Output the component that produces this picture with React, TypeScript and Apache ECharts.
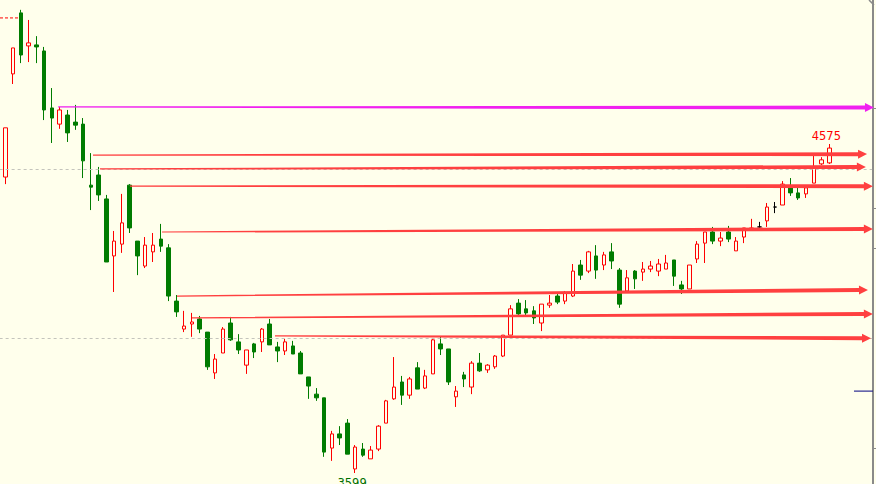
import React, { useEffect, useRef } from 'react';
import * as echarts from 'echarts';

// [open, close, low, high]
const candles: number[][] = [
  [4403, 4441, 4403, 4441],
  [4477, 4623, 4456, 4623],
  [4783, 4860, 4753, 4860],
  [4964, 4839, 4815, 4973],
  [4866, 4875, 4818, 4943],
  [4869, 4863, 4815, 4895],
  [4851, 4676, 4646, 4863],
  [4682, 4652, 4578, 4741],
  [4634, 4676, 4620, 4685],
  [4661, 4608, 4581, 4676],
  [4640, 4631, 4617, 4691],
  [4634, 4525, 4474, 4652],
  [4453, 4447, 4379, 4548],
  [4483, 4424, 4406, 4507],
  [4412, 4225, 4225, 4424],
  [4243, 4287, 4136, 4317],
  [4278, 4341, 4252, 4427],
  [4453, 4326, 4311, 4456],
  [4287, 4243, 4186, 4287],
  [4213, 4275, 4207, 4299],
  [4255, 4275, 4225, 4311],
  [4293, 4272, 4255, 4338],
  [4267, 4124, 4109, 4278],
  [4109, 4077, 4062, 4127],
  [4026, 4035, 4017, 4080],
  [4041, 4047, 4003, 4074],
  [4056, 4026, 4014, 4065],
  [4017, 3914, 3905, 4017],
  [3896, 3937, 3878, 3952],
  [3955, 4026, 3955, 4032],
  [4044, 3994, 3991, 4062],
  [3988, 3964, 3952, 4011],
  [3919, 3964, 3893, 3964],
  [3982, 3958, 3940, 3985],
  [3988, 4026, 3958, 4029],
  [4041, 3979, 3979, 4056],
  [3973, 3961, 3928, 3988],
  [3961, 3988, 3949, 3997],
  [3976, 3952, 3952, 3991],
  [3955, 3893, 3893, 3961],
  [3884, 3857, 3819, 3884],
  [3833, 3822, 3813, 3851],
  [3822, 3661, 3647, 3822],
  [3673, 3715, 3635, 3724],
  [3715, 3703, 3682, 3738],
  [3747, 3655, 3655, 3759],
  [3611, 3676, 3599, 3682],
  [3670, 3652, 3647, 3688],
  [3641, 3667, 3641, 3679],
  [3670, 3738, 3664, 3741],
  [3747, 3813, 3747, 3816],
  [3819, 3854, 3816, 3943],
  [3869, 3830, 3801, 3887],
  [3830, 3878, 3819, 3884],
  [3911, 3848, 3848, 3928],
  [3851, 3887, 3848, 3905],
  [3893, 3994, 3893, 3997],
  [3982, 3967, 3949, 4003],
  [3967, 3869, 3860, 3967],
  [3825, 3842, 3795, 3857],
  [3890, 3878, 3854, 3899],
  [3854, 3925, 3833, 3931],
  [3925, 3902, 3899, 3955],
  [3905, 3919, 3896, 3922],
  [3914, 3946, 3908, 3949],
  [3946, 4008, 3943, 4008],
  [4008, 4086, 4008, 4097],
  [4103, 4071, 4068, 4115],
  [4086, 4074, 4065, 4112],
  [4080, 4059, 4041, 4094],
  [4044, 4100, 4020, 4100],
  [4097, 4103, 4089, 4127],
  [4124, 4106, 4100, 4130],
  [4109, 4133, 4100, 4139],
  [4124, 4198, 4121, 4219],
  [4216, 4186, 4172, 4231],
  [4198, 4255, 4192, 4258],
  [4243, 4201, 4175, 4275],
  [4216, 4246, 4201, 4255],
  [4255, 4228, 4204, 4281],
  [4201, 4100, 4089, 4207],
  [4139, 4178, 4139, 4201],
  [4198, 4175, 4145, 4201],
  [4195, 4204, 4169, 4225],
  [4204, 4213, 4195, 4228],
  [4198, 4219, 4183, 4234],
  [4204, 4222, 4204, 4246],
  [4231, 4183, 4154, 4231],
  [4157, 4145, 4130, 4169],
  [4145, 4216, 4145, 4216],
  [4234, 4278, 4222, 4287],
  [4281, 4314, 4222, 4314],
  [4314, 4287, 4278, 4329],
  [4287, 4296, 4272, 4314],
  [4314, 4293, 4284, 4332],
  [4258, 4287, 4258, 4299],
  [4299, 4326, 4281, 4326],
  [4324, 4326, 4323, 4353],
  [4329, 4329, 4317, 4344],
  [4347, 4388, 4329, 4400],
  [4388, 4388, 4370, 4403],
  [4394, 4456, 4394, 4465],
  [4445, 4430, 4421, 4474],
  [4430, 4415, 4409, 4445],
  [4427, 4445, 4415, 4447],
  [4459, 4504, 4459, 4542],
  [4516, 4528, 4513, 4536],
  [4519, 4563, 4516, 4575],
];

const TOTAL_SLOTS = 113;
const categories: string[] = Array.from({ length: TOTAL_SLOTS }, (_, i) => `D${i + 1}`);

// [startIndex, startPrice, tipIndex, tipPrice]
const arrowLines: number[][] = [
  [7.8, 4685, 112.74, 4683],
  [12.28, 4542, 111.85, 4545],
  [13.18, 4501, 111.7, 4507],
  [17.04, 4450, 112.6, 4450],
  [21.16, 4314, 112.6, 4323],
  [23.09, 4124, 111.97, 4142],
  [25.01, 4059, 112.6, 4071],
  [35.69, 4006, 112.36, 3999],
];
const arrowColors = ['#f020f0', '#ff4040', '#ff4040', '#ff4040', '#ff4040', '#ff4040', '#ff4040', '#ff4040'];

// [startIndex, price, endIndex, price]
const plainSegments: number[][] = [
  [0.32, 4949, 2.76, 4949],
  [110.17, 3842, 112.6, 3842],
];
const plainSegmentColors = ['#ff0000', '#000080'];
const plainSegmentDashed = [true, false];

const gridLevels = [4000, 4500];
const rightAxisTicks = [4682, 4385, 4267, 3673];

const highIndex = 107;
const highValue = 4575;
const lowIndex = 46;
const lowValue = 3599;

const Y_MIN = 3566.4;
const Y_MAX = 5002.2;

export default function App() {
  const ref = useRef<HTMLDivElement>(null);

  useEffect(() => {
    if (!ref.current) return;
    const chart = echarts.init(ref.current, undefined, { renderer: 'svg' });

    const candleData = candles.map((c) => {
      if (c[0] === c[1]) {
        return {
          value: c,
          itemStyle: { color: '#000', color0: '#000', borderColor: '#000', borderColor0: '#000', borderColorDoji: '#000' },
        };
      }
      return { value: c };
    });

    const option: any = {
      animation: false,
      backgroundColor: '#ffffec',
      grid: {
        left: -6.36,
        right: 3.9,
        top: 0,
        bottom: 0,
        containLabel: false,
        outerBoundsMode: 'none',
      },
      xAxis: [
        { type: 'category', data: categories, show: false, boundaryGap: true },
        { type: 'value', min: -0.5, max: TOTAL_SLOTS - 0.5, show: false },
      ],
      yAxis: [
        {
          type: 'value',
          min: Y_MIN,
          max: Y_MAX,
          position: 'right',
          offset: 1,
          splitLine: { show: false },
          axisLabel: { show: false },
          axisLine: { show: true, onZero: false, lineStyle: { color: '#8a8a8a', width: 2 } },
          axisTick: {
            show: true,
            length: 3,
            inside: false,
            customValues: rightAxisTicks,
            lineStyle: { color: '#8a8a8a', width: 1 },
          },
        },
      ],
      series: [
        {
          type: 'candlestick',
          xAxisIndex: 0,
          yAxisIndex: 0,
          barWidth: 4,
          z: 2,
          itemStyle: {
            color: '#ffffec',
            color0: '#007c00',
            borderColor: '#ff0000',
            borderColor0: '#007c00',
            borderColorDoji: '#000000',
            borderWidth: 1,
          },
          data: candleData,
          markLine: {
            silent: true,
            symbol: ['none', 'none'],
            label: { show: false },
            lineStyle: { color: '#c4c4bc', type: [3, 3], width: 1 },
            data: gridLevels.map((v) => ({ yAxis: v })),
          },
          markPoint: {
            silent: true,
            symbol: 'circle',
            symbolSize: 1,
            itemStyle: { color: 'transparent' },
            label: {
              show: true,
              position: 'inside',
              formatter: '{c}',
              fontSize: 11.5,
              fontFamily: 'DejaVu Sans',
            },
            data: [
              {
                coord: [categories[highIndex], highValue],
                value: highValue,
                label: { offset: [-3, -8.5], color: '#ff0000' },
              },
              {
                coord: [categories[lowIndex], lowValue],
                value: lowValue,
                label: { offset: [-3, 9.5], color: '#007000' },
              },
            ],
          },
        },
        {
          type: 'custom',
          xAxisIndex: 1,
          yAxisIndex: 0,
          z: 4,
          clip: false,
          silent: true,
          encode: { x: [0, 2], y: [1, 3] },
          data: plainSegments,
          renderItem: (params: any, api: any) => {
            const a = api.coord([api.value(0), api.value(1)]);
            const b = api.coord([api.value(2), api.value(3)]);
            const i = params.dataIndex;
            return {
              type: 'line',
              shape: { x1: a[0], y1: a[1], x2: b[0], y2: b[1] },
              style: {
                stroke: plainSegmentColors[i],
                lineWidth: 1,
                lineDash: plainSegmentDashed[i] ? [3, 2] : null,
              },
            };
          },
        },
        {
          type: 'custom',
          xAxisIndex: 1,
          yAxisIndex: 0,
          z: 5,
          clip: false,
          silent: true,
          encode: { x: [0, 2], y: [1, 3] },
          data: arrowLines,
          renderItem: (params: any, api: any) => {
            const a = api.coord([api.value(0), api.value(1)]);
            const b = api.coord([api.value(2), api.value(3)]);
            const dx = b[0] - a[0];
            const dy = b[1] - a[1];
            const len = Math.hypot(dx, dy) || 1;
            const ux = dx / len;
            const uy = dy / len;
            const nx = -uy;
            const ny = ux;
            const head = 9;
            const hh = 4.5;
            const w0 = 0.6;
            const w1 = 2;
            const bx = b[0] - ux * head;
            const by = b[1] - uy * head;
            const pts = [
              [a[0] + nx * w0, a[1] + ny * w0],
              [bx + nx * w1, by + ny * w1],
              [bx + nx * hh, by + ny * hh],
              [b[0], b[1]],
              [bx - nx * hh, by - ny * hh],
              [bx - nx * w1, by - ny * w1],
              [a[0] - nx * w0, a[1] - ny * w0],
            ];
            return {
              type: 'polygon',
              shape: { points: pts },
              style: { fill: arrowColors[params.dataIndex] },
            };
          },
        },
      ],
      graphic: [
        {
          type: 'polyline',
          silent: true,
          shape: { points: [[869, 0], [874, 5]] },
          style: { stroke: '#8a8a8a', lineWidth: 1.5 },
        },
      ],
    };

    chart.setOption(option);
    return () => chart.dispose();
  }, []);

  return (
    <div
      ref={ref}
      style={{ position: 'fixed', left: 0, top: 0, width: 876, height: 484 }}
    />
  );
}
